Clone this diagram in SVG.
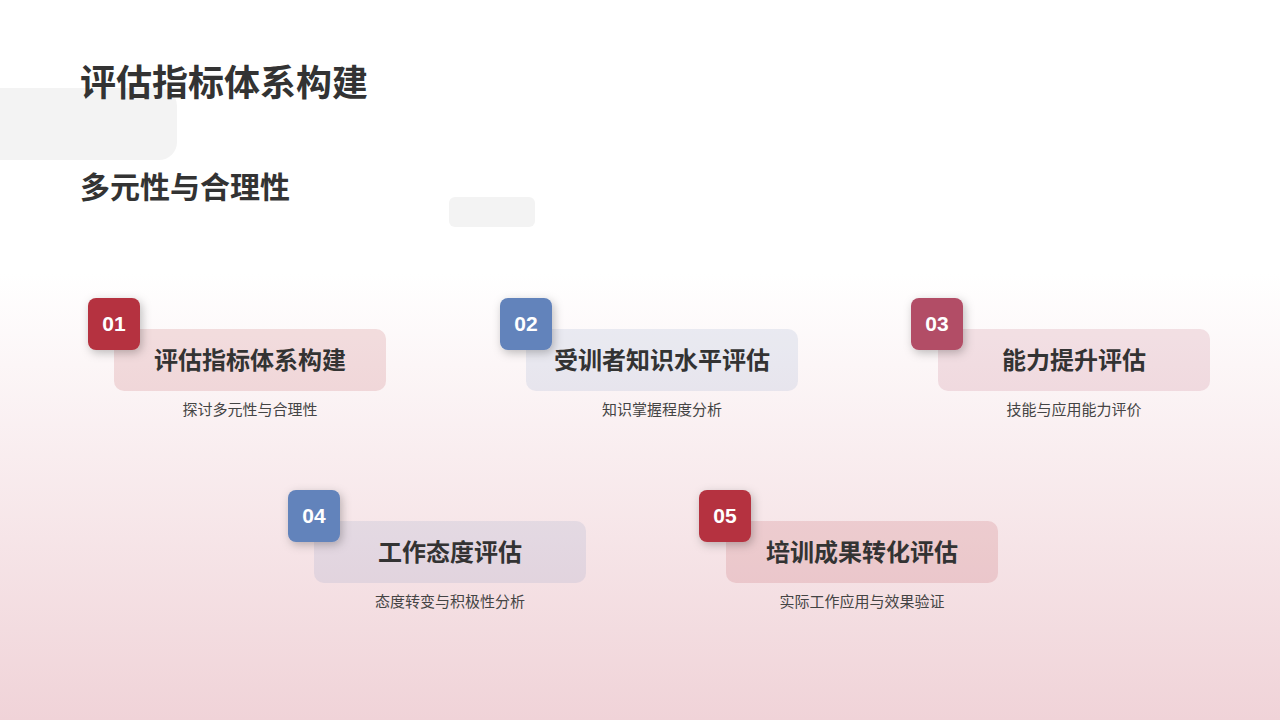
<svg xmlns="http://www.w3.org/2000/svg" width="1280" height="720" viewBox="0 0 1280 720">
<defs>
<linearGradient id="bg" x1="0" y1="0" x2="0" y2="1"><stop offset="0" stop-color="#ffffff"/><stop offset="0.38" stop-color="#ffffff"/><stop offset="1" stop-color="#f0d3d8"/></linearGradient>
<filter id="sh" x="-50%" y="-50%" width="200%" height="200%"><feDropShadow dx="2" dy="3" stdDeviation="5" flood-opacity="0.25"/></filter>
<style>
.t{font-family:"Noto Sans CJK SC","Noto Sans",sans-serif;fill:#333}
.h{font-size:24px;font-weight:700;text-anchor:middle}
.s{font-size:15px;text-anchor:middle;fill:#444}
.n{font-family:"Liberation Sans",sans-serif;font-size:21px;font-weight:700;fill:#fff;text-anchor:middle}
.card{rx:10}
.b{rx:8}
</style>
</defs>
<rect width="1280" height="720" fill="url(#bg)"/>
<rect x="-20" y="88" width="197" height="72" rx="18" fill="#f3f3f3"/>
<rect x="449" y="197" width="86" height="30" rx="6" fill="#f3f3f3"/>
<text class="t" x="80" y="96" font-size="36" font-weight="700">评估指标体系构建</text>
<text class="t" x="80" y="198" font-size="30" font-weight="700">多元性与合理性</text>
<g id="connectors"/>
<g id="n1">
<rect class="card" x="114" y="329" width="272" height="62" fill="#b5333f" fill-opacity="0.15"/>
<rect class="b" x="88" y="298" width="52" height="52" fill="#b5333f" filter="url(#sh)"/>
<text class="n" x="114" y="331">01</text>
<text class="t h" x="250" y="369">评估指标体系构建</text>
<text class="t s" x="250" y="415">探讨多元性与合理性</text>
</g>
<g id="n2">
<rect class="card" x="526" y="329" width="272" height="62" fill="#6283bb" fill-opacity="0.13"/>
<rect class="b" x="500" y="298" width="52" height="52" fill="#6283bb" filter="url(#sh)"/>
<text class="n" x="526" y="331">02</text>
<text class="t h" x="662" y="369">受训者知识水平评估</text>
<text class="t s" x="662" y="415">知识掌握程度分析</text>
</g>
<g id="n3">
<rect class="card" x="938" y="329" width="272" height="62" fill="#b24d66" fill-opacity="0.15"/>
<rect class="b" x="911" y="298" width="52" height="52" fill="#b24d66" filter="url(#sh)"/>
<text class="n" x="937" y="331">03</text>
<text class="t h" x="1074" y="369">能力提升评估</text>
<text class="t s" x="1074" y="415">技能与应用能力评价</text>
</g>
<g id="n4">
<rect class="card" x="314" y="521" width="272" height="62" fill="#6283bb" fill-opacity="0.13"/>
<rect class="b" x="288" y="490" width="52" height="52" fill="#6283bb" filter="url(#sh)"/>
<text class="n" x="314" y="523">04</text>
<text class="t h" x="450" y="561">工作态度评估</text>
<text class="t s" x="450" y="607">态度转变与积极性分析</text>
</g>
<g id="n5">
<rect class="card" x="726" y="521" width="272" height="62" fill="#b5333f" fill-opacity="0.15"/>
<rect class="b" x="699" y="490" width="52" height="52" fill="#b5333f" filter="url(#sh)"/>
<text class="n" x="725" y="523">05</text>
<text class="t h" x="862" y="561">培训成果转化评估</text>
<text class="t s" x="862" y="607">实际工作应用与效果验证</text>
</g>
</svg>
